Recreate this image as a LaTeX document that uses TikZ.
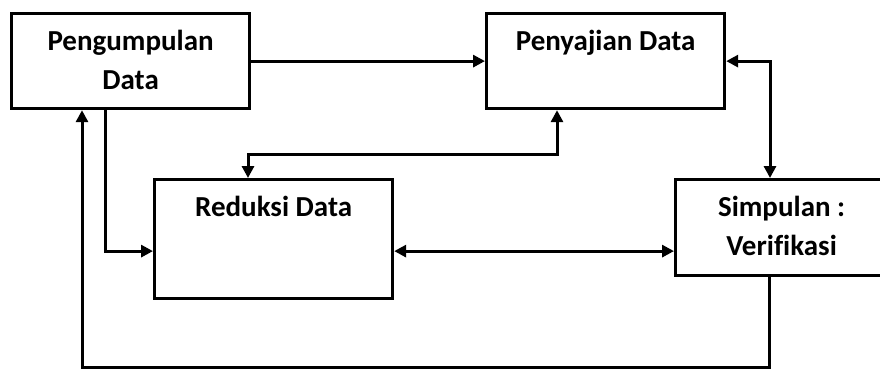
\documentclass[tikz,border=0pt]{standalone}
\usepackage{fontspec}
\setmainfont[Ligatures=NoCommon]{Carlito}
\usetikzlibrary{arrows.meta, positioning}

\begin{document}
\begin{tikzpicture}[x=1pt,y=-1pt,>={Triangle[length=12pt,width=12pt]},
		box/.style={draw, line width=3.2pt, anchor=north west, inner sep=0pt},
		lbl/.style={anchor=north, yshift=-18pt, align=center, inner sep=0pt,
			font=\bfseries\fontsize{29}{39}\selectfont},
		conn/.style={line width=3pt}]
		
		\useasboundingbox (0,0) rectangle (880,370);
		
		\node (kumpul) [box, minimum width=238pt, minimum height=95pt,
			label={[lbl]north:Pengumpulan\\Data}] at (10,12) {};
		\node (saji) [box, minimum width=238pt, minimum height=95pt,
			label={[lbl]north:Penyajian Data}] at (485,12) {};
		\node (reduksi) [box, minimum width=238pt, minimum height=119pt,
			label={[lbl]north:Reduksi Data}] at (153,178) {};
		\node (simpul) [box, minimum width=212pt, minimum height=96pt,
			label={[lbl]north:Simpulan :\\Verifikasi}] at (674,178) {};
		
		\coordinate (bawah) at (82,367);
		\coordinate (tengah) at (400,154);
		
		\draw [conn, ->] (kumpul.east) -- (saji.west);
		\draw [conn, ->] ([xshift=95pt]kumpul.south west) |- ([yshift=-12pt]reduksi.west);
		\draw [conn, <->] ([yshift=-12pt]reduksi.east) -- ([yshift=-12pt]reduksi.east -| simpul.west);
		\draw [conn, <->] (saji.east) -| ([xshift=96pt]simpul.north west);
		\draw [conn, <->] ([xshift=95pt]reduksi.north west) |- (tengah) -| ([xshift=72pt]saji.south west);
		\draw [conn, ->] ([xshift=95pt]simpul.south west) |- (bawah) -- ([xshift=72pt]kumpul.south west);
	\end{tikzpicture}
\end{document}
